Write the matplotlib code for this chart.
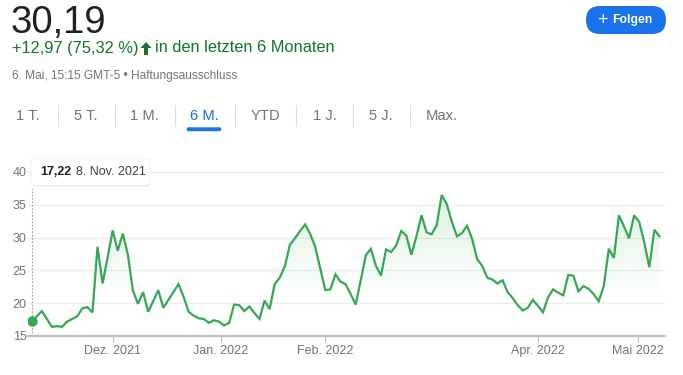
import numpy as np
import matplotlib
matplotlib.use("Agg")
import matplotlib.pyplot as plt
from matplotlib.patches import FancyBboxPatch, Polygon
from matplotlib.transforms import IdentityTransform

# daily closes, 8. Nov. 2021 .. 6. Mai 2022 (trading days)
prices = [17.22, 18.0, 18.8, 17.6, 16.4, 16.5, 16.4, 17.2, 17.6, 18.0,
          19.2, 19.4, 18.6, 28.6, 23.0, 27.0, 31.1, 28.0, 30.6, 27.4,
          21.9, 19.9, 21.7, 18.7, 20.3, 22.0, 19.3, 20.5, 21.7, 22.9,
          21.0, 18.7, 18.1, 17.7, 17.6, 17.0, 17.4, 17.2, 16.6, 17.0,
          19.8, 19.7, 18.8, 19.5, 18.5, 17.6, 20.4, 19.1, 22.9, 23.9,
          25.6, 28.9, 29.9, 31.0, 32.0, 30.6, 28.6, 25.3, 22.0, 22.1,
          24.4, 23.3, 22.9, 21.4, 19.8, 23.5, 27.3, 28.3, 25.7, 24.2,
          28.2, 27.8, 28.8, 31.0, 30.3, 27.4, 30.2, 33.4, 30.8, 30.5,
          31.9, 36.5, 35.1, 32.4, 30.2, 30.7, 31.8, 29.8, 26.7, 25.7,
          23.9, 23.6, 23.0, 23.5, 21.7, 20.8, 19.7, 18.9, 19.3, 20.5,
          19.6, 18.6, 20.9, 22.1, 21.6, 21.2, 24.3, 24.2, 21.8, 22.6,
          22.2, 21.4, 20.3, 22.6, 28.3, 26.9, 33.4, 31.7, 29.9, 33.4,
          32.4, 29.3, 25.5, 31.2, 30.19]
month_labels = ["Dez. 2021", "Jan. 2022", "Feb. 2022", "Apr. 2022", "Mai 2022"]
month_pos = [16, 37.33, 58, 100, 119.67]   # trading-day index of the 1st of month
y_ticks = [15, 20, 25, 30, 35, 40]
tabs = ["1 T.", "5 T.", "1 M.", "6 M.", "YTD", "1 J.", "5 J.", "Max."]
selected_tab = "6 M."

W, H = 683, 375
GREEN = "#34a853"
GRAY = "#70757a"
BLUE = "#1a73e8"
plt.rcParams['font.family'] = ['Liberation Sans', 'DejaVu Sans']

fig = plt.figure(figsize=(W / 100, H / 100), dpi=100)
pix = IdentityTransform()


def fx(x):
    return x / W


def fy(y):
    return 1 - y / H


# header
fig.text(fx(11), fy(33), "30,19", fontsize=27.5, color="#202124", va="baseline")
fig.text(fx(12), fy(48), "+12,97 (75,32 %)", fontsize=11.8, color="#137333",
         va="center")
fig.add_artist(Polygon([(146, H - 42), (151.5, H - 48), (148, H - 48),
                        (148, H - 55), (144, H - 55), (144, H - 48),
                        (140.5, H - 48)],
                       closed=True, transform=pix, fc="#137333", ec="none"))
fig.text(fx(155), fy(48), "in den letzten 6 Monaten", fontsize=11.8,
         color="#137333", va="center")
fig.text(fx(12), fy(76), "6. Mai, 15:15 GMT-5 \u2022 Haftungsausschluss",
         fontsize=8.6, color=GRAY, va="center")

# follow button
fig.add_artist(FancyBboxPatch((600, H - 34 + 14), 52, 0,
                              boxstyle="round,pad=14,rounding_size=14",
                              transform=pix, fc=BLUE, ec="none"))
fig.text(fx(597), fy(20.5), "+", fontsize=13, color="white", va="center", ha="left")
fig.text(fx(612), fy(20), "Folgen", fontsize=8.8, color="white", va="center",
         ha="left", weight="bold")

# range tabs
tab_x = [28, 85.5, 144, 204, 265.5, 324.5, 381, 442]
sep_x = [58, 115, 175, 235, 296, 353, 410]
for name, x in zip(tabs, tab_x):
    fig.text(fx(x), fy(115.5), name, fontsize=10.6, ha="center", va="center",
             color=BLUE if name == selected_tab else GRAY)
for x in sep_x:
    fig.add_artist(plt.Line2D([fx(x), fx(x)], [fy(105), fy(126)],
                              color="#dadce0", lw=0.8))
fig.add_artist(FancyBboxPatch((188, H - 130), 32, 1.5,
                              boxstyle="round,pad=1.2,rounding_size=1.5",
                              transform=pix, fc=BLUE, ec="none"))

# chart
ax = fig.add_axes([fx(28), fy(336), (665 - 28) / W, (336 - 172) / H])
x = np.arange(len(prices))
y = np.array(prices)

ax.set_xlim(-0.73, 125.1)
ax.set_ylim(15, 40)

# gradient fill under the line
grad = np.zeros((200, 2, 4))
grad[..., :3] = matplotlib.colors.to_rgb(GREEN)
yy = np.linspace(15, 40, 200)
grad[..., 3] = np.clip((yy - 21) / (37 - 21), 0, 1)[:, None] * 0.17
img = ax.imshow(grad, extent=[-0.73, 125.1, 15, 40], origin="lower",
                aspect="auto", zorder=1, interpolation="bilinear")
poly = ax.fill_between(x, y, 15, color="none", lw=0)
img.set_clip_path(poly.get_paths()[0], ax.transData)

ax.plot(x, y, color=GREEN, lw=1.6, zorder=3, solid_joinstyle="miter")
ax.plot(x[0], y[0], "o", color=GREEN, ms=6.5, zorder=4)
ax.plot([x[0], x[0]], [15, 37.6], color="#9aa0a6", lw=0.8, ls=(0, (1.5, 1.5)),
        zorder=2)

ax.set_yticks(y_ticks)
ax.set_xticks(month_pos)
ax.set_xticklabels(month_labels)
ax.grid(axis="y", color="#ececec", lw=0.8)
ax.set_axisbelow(True)
for s in ["top", "right", "left"]:
    ax.spines[s].set_visible(False)
ax.spines["bottom"].set_color("#bdbdbd")
ax.spines["bottom"].set_linewidth(1.6)
ax.tick_params(axis="y", length=0, pad=1, labelsize=9, labelcolor=GRAY)
ax.tick_params(axis="x", length=4.3, width=0.8, color="#bdbdbd", pad=2,
               labelsize=9, labelcolor=GRAY)

# tooltip
fig.add_artist(FancyBboxPatch((32, H - 186.5), 118, 27,
                              boxstyle="round,pad=0,rounding_size=3",
                              transform=pix, fc="#d9d9d9", ec="none", alpha=0.6))
fig.add_artist(FancyBboxPatch((31, H - 185.5), 119, 27,
                              boxstyle="round,pad=0,rounding_size=3",
                              transform=pix, fc="white", ec="#e8e8e8", lw=0.5))
fig.text(fx(40), fy(172), "17,22", fontsize=9, color="#202124", va="center",
         weight="bold")
fig.text(fx(76), fy(172), "8. Nov. 2021", fontsize=9, color="#3c4043",
         va="center")

fig.savefig("out.png", dpi=100)
